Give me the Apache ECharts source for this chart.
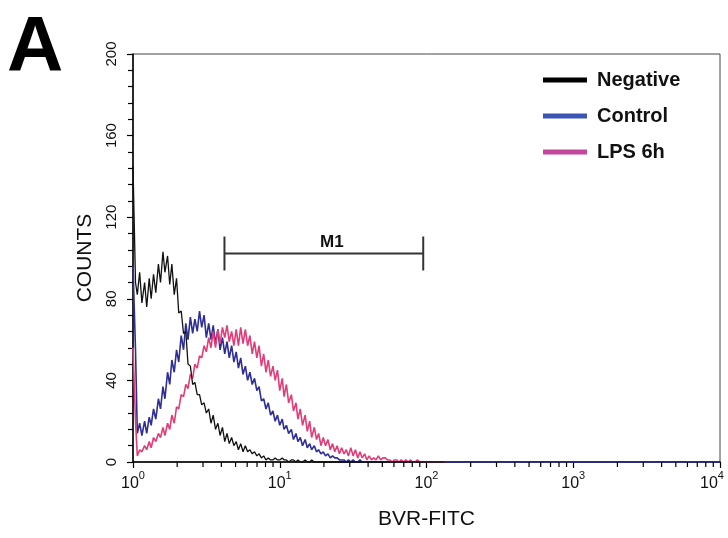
<!DOCTYPE html>
<html><head><meta charset="utf-8">
<script src="https://cdn.jsdelivr.net/npm/echarts@6/dist/echarts.min.js"></script>
<style>html,body{margin:0;padding:0;background:#fff}#c{width:728px;height:538px}</style>
</head><body><div id="c"></div>
<script>
// Histogram channel positions (fluorescence intensity, log scale, 64 channels per decade)
const fluorescence = [
 1, 1.04, 1.07, 1.11, 1.15, 1.20, 1.24, 1.29, 1.33, 1.38,
 1.43, 1.49, 1.54, 1.60, 1.65, 1.72, 1.78, 1.84, 1.91, 1.98,
 2.05, 2.13, 2.21, 2.29, 2.37, 2.46, 2.55, 2.64, 2.74, 2.84,
 2.94, 3.05, 3.16, 3.28, 3.40, 3.52, 3.65, 3.79, 3.92, 4.07,
 4.22, 4.37, 4.53, 4.70, 4.87, 5.05, 5.23, 5.42, 5.62, 5.83,
 6.04, 6.26, 6.49, 6.73, 6.98, 7.23, 7.50, 7.77, 8.06, 8.35,
 8.66, 8.98, 9.31, 9.65, 10, 10.4, 10.7, 11.1, 11.5, 12.0,
 12.4, 12.9, 13.3, 13.8, 14.3, 14.9, 15.4, 16.0, 16.5, 17.2,
 17.8, 18.4, 19.1, 19.8, 20.5, 21.3, 22.1, 22.9, 23.7, 24.6,
 25.5, 26.4, 27.4, 28.4, 29.4, 30.5, 31.6, 32.8, 34.0, 35.2,
 36.5, 37.9, 39.2, 40.7, 42.2, 43.7, 45.3, 47.0, 48.7, 50.5,
 52.3, 54.2, 56.2, 58.3, 60.4, 62.6, 64.9, 67.3, 69.8, 72.3,
 75.0, 77.7, 80.6, 83.5, 86.6, 89.8, 93.1, 96.5, 100, 104,
 107, 111, 115, 120, 124, 129, 133, 10000
];
const seriesNames = ['Negative', 'Control', 'LPS 6h'];
const negative = [
 145, 88, 82, 93, 78, 88, 76, 90, 80, 92,
 83, 97, 88, 103, 93, 101, 87, 97, 82, 90,
 73, 74, 63, 64, 48, 47, 38, 39, 33, 33,
 28, 29, 24, 26, 19, 23, 16, 19, 13, 17,
 10, 14, 9, 12, 8, 10, 6, 9, 5, 8,
 5, 6, 4, 5, 3, 4, 2, 3, 1, 2,
 1, 1, 2, 1, 1, 2, 1, 1, 0, 1,
 1, 0, 1, 0, 0, 1, 0, 0, 1, 0,
 0, 0, 0, 0, 0, 0, 0, 0, 0, 0,
 0, 0, 0, 0, 0, 0, 0, 0, 0, 0,
 0, 0, 0, 0, 0, 0, 0, 0, 0, 0,
 0, 0, 0, 0, 0, 0, 0, 0, 0, 0,
 0, 0, 0, 0, 0, 0, 0, 0, 0, 0,
 0, 0, 0, 0, 0, 0, 0
];
const control = [
 96, 55, 14, 19, 13, 20, 14, 22, 18, 26,
 21, 31, 26, 37, 31, 44, 38, 50, 44, 55,
 49, 62, 55, 68, 60, 71, 63, 70, 64, 74,
 66, 72, 61, 68, 60, 67, 58, 65, 55, 61,
 53, 59, 51, 57, 49, 54, 46, 51, 43, 47,
 40, 44, 38, 41, 35, 37, 30, 31, 26, 29,
 23, 25, 20, 23, 18, 21, 16, 18, 14, 16,
 11, 14, 10, 12, 8, 11, 7, 9, 6, 8,
 5, 6, 4, 5, 3, 4, 2, 3, 2, 2,
 1, 1, 1, 0, 1, 0, 1, 0, 0, 1,
 0, 0, 0, 0, 0, 0, 0, 0, 0, 0,
 0, 0, 0, 0, 0, 0, 0, 0, 0, 0,
 0, 0, 0, 0, 0, 0, 0, 0, 0, 0,
 0, 0, 0, 0, 0, 0, 0, 0
];
const lps6h = [
 56, 20, 3, 6, 5, 8, 6, 10, 7, 12,
 10, 14, 12, 17, 13, 19, 16, 23, 19, 27,
 26, 33, 32, 38, 36, 43, 41, 48, 46, 52,
 51, 57, 54, 61, 56, 64, 56, 65, 58, 66,
 61, 67, 59, 64, 57, 65, 57, 66, 58, 65,
 57, 62, 53, 59, 51, 57, 47, 53, 44, 50,
 42, 47, 40, 45, 35, 41, 32, 38, 29, 33,
 25, 29, 21, 26, 18, 23, 15, 20, 12, 17,
 11, 14, 8, 12, 8, 11, 6, 9, 5, 8,
 4, 7, 4, 6, 3, 7, 3, 6, 2, 5,
 2, 4, 1, 3, 1, 2, 1, 3, 1, 2,
 2, 1, 1, 0, 1, 1, 0, 1, 0, 1,
 0, 1, 0, 0, 1, 0, 0, 0, 0, 0,
 0, 0, 0, 0, 0, 0, 0
];
// x-axis decade ticks and their labels (base, exponent)
const decadeTicks = [1, 10, 100, 1000, 10000];
const decadeLabels = [['10', '0'], ['10', '1'], ['10', '2'], ['10', '3'], ['10', '4']];
const minorMultipliers = [2, 3, 4, 5, 6, 7, 8, 9];
const minorDecades = [1, 10, 100, 1000];
// M1 gate marker: [from, to, count level]
const m1Gate = [4.2, 95, 102.2];
const m1Label = 'M1';

const FONT = 'Liberation Sans, Arial, Helvetica, sans-serif';
const pairs = vals => vals.map((v, i) => [fluorescence[i], v]);
const minorTickData = [];
minorDecades.forEach(d => minorMultipliers.forEach(m => minorTickData.push([d * m, 0])));

const chart = echarts.init(document.getElementById('c'), null, {renderer: 'canvas'});
chart.setOption({
  animation: false,
  backgroundColor: '#fff',
  graphic: [{
    type: 'text', left: 7, top: 10,
    style: {text: 'A', font: 'bold 78px ' + FONT, fill: '#000'}
  }],
  legend: {
    orient: 'vertical', left: 538, top: 64,
    itemWidth: 44, itemHeight: 5, itemGap: 14, icon: 'rect',
    textStyle: {fontSize: 20, fontWeight: 'bold', color: '#111', fontFamily: FONT, lineHeight: 22, padding: [0, 0, 0, 5]},
    data: [
      {name: seriesNames[0], itemStyle: {color: '#000'}},
      {name: seriesNames[1], itemStyle: {color: '#3b55b5'}},
      {name: seriesNames[2], itemStyle: {color: '#c4479e'}}
    ]
  },
  grid: {left: 133, right: 8, top: 54, bottom: 76, show: true, borderColor: '#444', borderWidth: 1,
    containLabel: false, outerBoundsMode: 'none'},
  xAxis: {
    type: 'log', logBase: 10, min: 1, max: 10000,
    axisLine: {lineStyle: {color: '#000', width: 1.5}},
    axisTick: {show: true, length: 6, lineStyle: {color: '#000', width: 1.2}},
    splitLine: {show: false},
    axisLabel: {
      margin: 8, color: '#111', fontFamily: FONT, showMaxLabel: true, showMinLabel: true,
      formatter: v => {
        const i = decadeTicks.indexOf(Math.round(v));
        if (i < 0) return '';
        const last = i === decadeTicks.length - 1;
        return '{b|' + decadeLabels[i][0] + '}{' + (last ? 'sl' : 's') + '|' + decadeLabels[i][1] + '}';
      },
      rich: {
        b: {fontSize: 16, fontFamily: FONT, color: '#111', lineHeight: 22, verticalAlign: 'bottom'},
        s: {fontSize: 11, fontFamily: FONT, color: '#111', lineHeight: 22, verticalAlign: 'top'},
        sl: {fontSize: 11, fontFamily: FONT, color: '#111', lineHeight: 22, verticalAlign: 'top', padding: [0, 16, 0, 0]}
      }
    },
    name: 'BVR-FITC', nameLocation: 'middle', nameGap: 47,
    nameTextStyle: {fontSize: 21, color: '#111', fontFamily: FONT}
  },
  yAxis: {
    type: 'value', min: 0, max: 200, interval: 40,
    axisLine: {show: true, lineStyle: {color: '#000', width: 1.5}},
    axisTick: {show: true, length: 6, lineStyle: {color: '#000', width: 1.2}},
    minorTick: {show: true, splitNumber: 5, length: 5, lineStyle: {color: '#000', width: 1.2}},
    splitLine: {show: false},
    axisLabel: {rotate: 90, margin: 14, fontSize: 15, color: '#111', fontFamily: FONT},
    name: 'COUNTS', nameLocation: 'middle', nameGap: 35, nameRotate: 90,
    nameTextStyle: {fontSize: 21, color: '#111', fontFamily: FONT}
  },
  series: [
    {
      name: seriesNames[1], type: 'line', data: pairs(control), showSymbol: false, clip: false,
      lineStyle: {color: '#2e2e96', width: 1.6}, itemStyle: {color: '#2e2e96'}, z: 3
    },
    {
      name: seriesNames[2], type: 'line', data: pairs(lps6h), showSymbol: false, clip: false,
      lineStyle: {color: '#e23d78', width: 1.6}, itemStyle: {color: '#e23d78'}, z: 4
    },
    {
      name: seriesNames[0], type: 'line', data: pairs(negative), showSymbol: false, clip: false,
      lineStyle: {color: '#111', width: 1.3}, itemStyle: {color: '#111'}, z: 5
    },
    {
      type: 'custom', name: 'minorTicks', clip: false, silent: true, z: 6,
      data: minorTickData, encode: {x: 0, y: 1},
      renderItem: (params, api) => {
        const p = api.coord([api.value(0), api.value(1)]);
        return {type: 'line', shape: {x1: p[0], y1: p[1], x2: p[0], y2: p[1] + 5},
          style: {stroke: '#000', lineWidth: 1.2}};
      }
    },
    {
      type: 'custom', name: 'M1', clip: false, silent: true, z: 6,
      data: [m1Gate], encode: {x: [0, 1], y: 2},
      renderItem: (params, api) => {
        const a = api.coord([api.value(0), api.value(2)]);
        const b = api.coord([api.value(1), api.value(2)]);
        const st = {stroke: '#333', lineWidth: 2};
        return {type: 'group', children: [
          {type: 'line', shape: {x1: a[0], y1: a[1], x2: b[0], y2: b[1]}, style: st},
          {type: 'line', shape: {x1: a[0], y1: a[1] - 17, x2: a[0], y2: a[1] + 17}, style: st},
          {type: 'line', shape: {x1: b[0], y1: b[1] - 17, x2: b[0], y2: b[1] + 17}, style: st},
          {type: 'text', style: {text: m1Label, x: (a[0] + b[0]) / 2 + 8, y: a[1] - 11,
            font: 'bold 17px ' + FONT, fill: '#111', textAlign: 'center', textVerticalAlign: 'middle',
            align: 'center', verticalAlign: 'middle'}}
        ]};
      }
    }
  ]
});
</script></body></html>
